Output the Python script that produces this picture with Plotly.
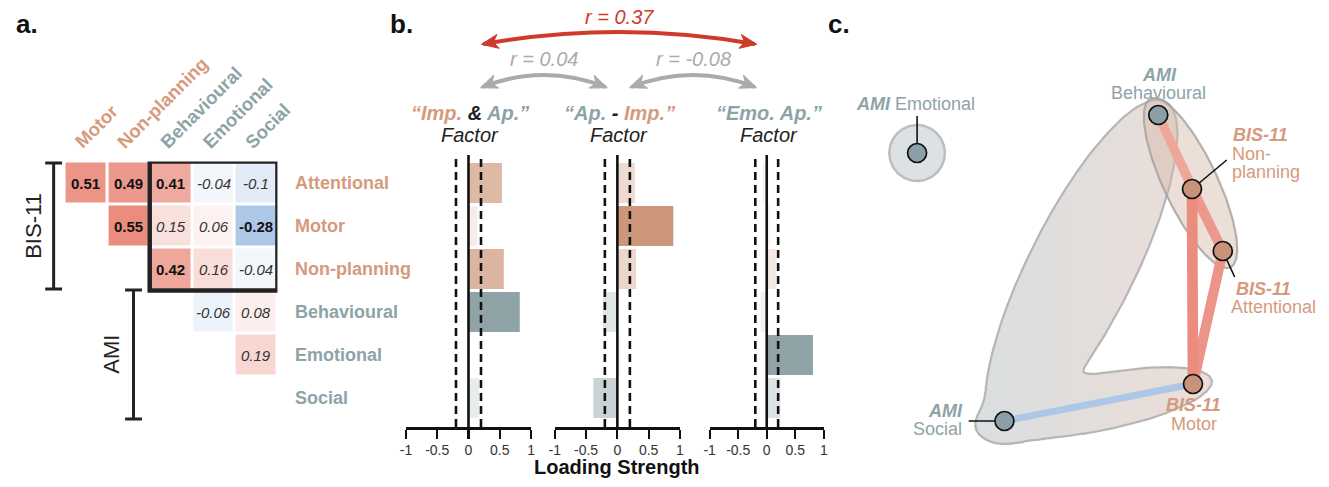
import numpy as np
import plotly.graph_objects as go

W, H = 1329, 487
FONT = "Liberation Sans, Arial, sans-serif"

# ---------------- data: panel a (correlation matrix) ----------------
col_labels = ["Motor", "Non-planning", "Behavioural", "Emotional", "Social"]
col_scale = ["BIS-11", "BIS-11", "AMI", "AMI", "AMI"]
row_labels = ["Attentional", "Motor", "Non-planning", "Behavioural", "Emotional", "Social"]
row_scale = ["BIS-11", "BIS-11", "BIS-11", "AMI", "AMI", "AMI"]
r_attentional = [0.51, 0.49, 0.41, -0.04, -0.10]
r_motor = [None, 0.55, 0.15, 0.06, -0.28]
r_nonplanning = [None, None, 0.42, 0.16, -0.04]
r_behavioural = [None, None, None, -0.06, 0.08]
r_emotional = [None, None, None, None, 0.19]
r_social = [None, None, None, None, None]
sig_threshold = 0.2

# ---------------- data: panel b (factor loadings) ----------------
load_imp_ap = [0.535, 0.14, 0.565, 0.82, 0.01, 0.17]
load_ap_minus_imp = [0.28, 0.895, 0.30, -0.23, 0.05, -0.385]
load_emo_ap = [-0.08, 0.065, 0.17, -0.11, 0.81, 0.24]
loading_cutoff = 0.2
factor_corr_pairs = [(0, 2), (0, 1), (1, 2)]
factor_corr_values = [0.37, 0.04, -0.08]
tick_vals = [-1, -0.5, 0, 0.5, 1]
tick_text = ["-1", "-0.5", "0", "0.5", "1"]

# ---------------- data: panel c (network layout) ----------------
node_names = ["Emotional", "Behavioural", "Non-planning", "Attentional", "Motor", "Social"]
node_scale = ["AMI", "AMI", "BIS-11", "BIS-11", "BIS-11", "AMI"]
node_x = [918, 1161, 1195, 1226, 1196, 1006]
node_y = [153, 115, 189, 251, 384, 421]
cluster_a = ["Behavioural", "Social", "Motor"]
cluster_b = ["Behavioural", "Non-planning", "Attentional"]
cluster_c = ["Emotional"]

# ---------------- styles ----------------
BIS_TXT, AMI_TXT = "#D69A7E", "#8EA3A8"
BIS_BAR, AMI_BAR = "#CC967B", "#90A4A8"
BIS_NODE, AMI_NODE = "#C8937A", "#8AA0A6"
RED_END, BLUE_END = (232, 129, 114), (79, 137, 202)
ZLIM = 0.6


def corr_color(v):
    t = max(-1.0, min(1.0, v / ZLIM))
    end = RED_END if t >= 0 else BLUE_END
    a = abs(t)
    c = [round(255 - (255 - e) * a) for e in end]
    return f"rgb({c[0]},{c[1]},{c[2]})"


def px_x(p):
    return p / W


def px_y(p):
    return 1 - p / H


fig = go.Figure()
annotations = []
shapes = []

# ================= panel a =================
z = [r_attentional, r_motor, r_nonplanning, r_behavioural, r_emotional, r_social]
hm_x0, hm_x1 = 59, 273.5
hm_y0, hm_y1 = 161.5, 419.5
fig.add_trace(go.Heatmap(
    z=z, x=list(range(len(col_labels))), y=list(range(len(row_labels))),
    zmin=-ZLIM, zmax=ZLIM, xgap=3, ygap=3, showscale=False, hoverinfo="skip",
    colorscale=[[0, "rgb(%d,%d,%d)" % BLUE_END], [0.5, "rgb(255,255,255)"],
                [1, "rgb(%d,%d,%d)" % RED_END]],
    xaxis="x", yaxis="y"))
for i, row in enumerate(z):
    for j, v in enumerate(row):
        if v is None:
            continue
        s = f"{v:g}"
        if abs(v) >= sig_threshold:
            txt, col = f"<b>{s}</b>", "#111111"
        else:
            txt, col = f"<i>{s}</i>", "#333333"
        annotations.append(dict(x=j, y=i, xref="x", yref="y", text=txt, showarrow=False,
                                font=dict(size=15, color=col, family=FONT)))
# row labels
for i, (lab, sc) in enumerate(zip(row_labels, row_scale)):
    annotations.append(dict(x=289, y=i, xref="x5", yref="y", text=f"<b>{lab}</b>",
                            showarrow=False, xanchor="left",
                            font=dict(size=18, color=BIS_TXT if sc == "BIS-11" else AMI_TXT,
                                      family=FONT)))
# column labels (rotated)
pitch = (hm_x1 - hm_x0) / len(col_labels)
for j, (lab, sc) in enumerate(zip(col_labels, col_scale)):
    cx = hm_x0 + pitch * (j + 0.5)
    annotations.append(dict(x=cx - 18, y=155, xref="x5", yref="y5", text=f"<b>{lab}</b>",
                            showarrow=False, xanchor="left", yanchor="bottom", textangle=-45,
                            font=dict(size=18.5, color=BIS_TXT if sc == "BIS-11" else AMI_TXT,
                                      family=FONT)))
# highlight box
shapes.append(dict(type="rect", xref="x", yref="y", x0=1.5, x1=4.5, y0=-0.5, y1=2.5,
                   line=dict(color="#222222", width=4.5), layer="above"))
# brackets
for (bx, y0, y1, lab, lx) in [(48, 163, 289, "BIS-11", 27), (128.5, 290, 419, "AMI", 106)]:
    shapes.append(dict(type="line", xref="x5", yref="y5", x0=bx, x1=bx, y0=y0, y1=y1,
                       line=dict(color="#222222", width=3)))
    for yy in (y0, y1):
        shapes.append(dict(type="line", xref="x5", yref="y5", x0=bx - 8.5, x1=bx + 8.5,
                           y0=yy, y1=yy, line=dict(color="#222222", width=3)))
    annotations.append(dict(x=lx, y=(y0 + y1) / 2, xref="x5", yref="y5", text=lab,
                            showarrow=False, textangle=-90,
                            font=dict(size=22, color="#222222", family=FONT)))

# ================= panel b =================
loadings = [load_imp_ap, load_ap_minus_imp, load_emo_ap]
bar_px = [(403, 529), (553, 679), (709, 824)]
bar_top, bar_bot = 155, 427
y_lo, y_hi = -0.651, 5.674
bar_cols = [BIS_BAR if s == "BIS-11" else AMI_BAR for s in row_scale]
for k, vals in enumerate(loadings):
    xa, ya = f"x{k + 2}", f"y{k + 2}"
    fig.add_trace(go.Bar(
        x=vals, y=list(range(len(row_labels))), orientation="h", width=0.93,
        marker=dict(color=bar_cols, opacity=[min(1.0, abs(v) / 0.8) for v in vals],
                    line=dict(width=0)),
        hoverinfo="skip", xaxis=xa, yaxis=ya))
    for xv, dash in [(0, "solid"), (-loading_cutoff, "8px,5px"), (loading_cutoff, "8px,5px")]:
        shapes.append(dict(type="line", xref=xa, yref=f"{ya} domain", x0=xv, x1=xv, y0=0, y1=1,
                           line=dict(color="#111111", width=2.6, dash=dash), layer="above"))

centers = [(a + b) / 2 for a, b in bar_px]
title_html = [
    f"<b><i><span style='color:{BIS_TXT}'>\u201cImp.</span> <span style='color:#222'>&amp;</span> "
    f"<span style='color:{AMI_TXT}'>Ap.\u201d</span></i></b>",
    f"<b><i><span style='color:{AMI_TXT}'>\u201cAp.</span> <span style='color:#222'>-</span> "
    f"<span style='color:{BIS_TXT}'>Imp.\u201d</span></i></b>",
    f"<b><i><span style='color:{AMI_TXT}'>\u201cEmo. Ap.\u201d</span></i></b>",
]
for c, t in zip(centers, title_html):
    annotations.append(dict(x=c + 2, y=113, xref="x5", yref="y5", text=t, showarrow=False,
                            font=dict(size=20, family=FONT)))
    annotations.append(dict(x=c + 2, y=135, xref="x5", yref="y5", text="<i>Factor</i>",
                            showarrow=False, font=dict(size=20, color="#222222", family=FONT)))
annotations.append(dict(x=616, y=467, xref="x5", yref="y5", text="<b>Loading Strength</b>",
                        showarrow=False, font=dict(size=20, color="#111111", family=FONT)))


def arc_with_heads(x0, x1, y, h, color, width, head_len, head_w):
    cxm = (x0 + x1) / 2
    cy = y - 2 * h
    shapes.append(dict(type="path", xref="x5", yref="y5",
                       path=f"M {x0},{y} Q {cxm},{cy} {x1},{y}",
                       line=dict(color=color, width=width)))
    for (px, py) in [(x0, y), (x1, y)]:
        d = np.array([px - cxm, py - cy], float)
        d /= np.hypot(*d)
        n = np.array([-d[1], d[0]])
        tip = np.array([px, py], float) + d * 2
        base = tip - d * head_len
        inner = tip - d * head_len * 0.72
        p1, p2 = base + n * head_w, base - n * head_w
        shapes.append(dict(type="path", xref="x5", yref="y5",
                           path=f"M {tip[0]},{tip[1]} L {p1[0]},{p1[1]} L {inner[0]},{inner[1]} "
                                f"L {p2[0]},{p2[1]} Z",
                           fillcolor=color, line=dict(color=color, width=1)))


for (a, b), r in zip(factor_corr_pairs, factor_corr_values):
    if (a, b) == (0, 2):
        x0, x1, y, col, ty = centers[a] + 15, centers[b] - 12, 44, "#CF3A2A", 17
    else:
        x0, x1, y, col, ty = centers[a] + 14, centers[b] - 12, 87, "#ABABAB", 59
    arc_with_heads(x0, x1, y, 12, col, 4, 17, 7)
    annotations.append(dict(x=(x0 + x1) / 2, y=ty, xref="x5", yref="y5",
                            text=f"<i>r = {r:g}</i>", showarrow=False,
                            font=dict(size=20, color=col, family=FONT)))

# ================= panel c =================
pos = {n: (x, y) for n, x, y in zip(node_names, node_x, node_y)}


def ell_field(X, Y, p, q, pad, b):
    p = np.asarray(p, float)
    q = np.asarray(q, float)
    c = (p + q) / 2
    d = q - p
    L = np.hypot(*d)
    u = d / L
    nv = np.array([-u[1], u[0]])
    a = L / 2 + pad
    dx, dy = X - c[0], Y - c[1]
    return ((dx * u[0] + dy * u[1]) / a) ** 2 + ((dx * nv[0] + dy * nv[1]) / b) ** 2


def smooth_min(a, b, k):
    m = np.minimum(a, b)
    return m - k * np.log(np.exp(-(a - m) / k) + np.exp(-(b - m) / k))


# cluster A: bent hull along the chain of its members
pA, pB, pC = (np.array(pos[n], float) for n in cluster_a)
u1 = (pA - pB) / np.hypot(*(pA - pB))
u2 = (pC - pB) / np.hypot(*(pC - pB))
bis = (u1 + u2) / np.hypot(*(u1 + u2))
ctr = pB + bis * 30
th = np.linspace(0, 2 * np.pi, 900)
rr = np.arange(0, 460, 0.5)
X = ctr[0] + np.outer(np.cos(th), rr)
Y = ctr[1] + np.outer(np.sin(th), rr)
G = smooth_min(ell_field(X, Y, pA, pB, 15, 53), ell_field(X, Y, pB, pC, 19, 28), 0.3)
idx = np.argmax(G >= 1, axis=1)
hx = X[np.arange(len(th)), idx]
hy = Y[np.arange(len(th)), idx]
fig.add_trace(go.Scatter(x=hx, y=hy, mode="lines", fill="toself",
                         fillgradient=dict(type="horizontal",
                                           colorscale=[[0, "#DADEE0"], [1, "#ECDED7"]]),
                         line=dict(color="#B6B6B6", width=2.2), hoverinfo="skip",
                         xaxis="x5", yaxis="y5"))

# cluster B: ellipse along its farthest pair
ptsB = [np.array(pos[n], float) for n in cluster_b]
best = max(((i, j) for i in range(len(ptsB)) for j in range(i + 1, len(ptsB))),
           key=lambda ij: np.hypot(*(ptsB[ij[0]] - ptsB[ij[1]])))
p, q = ptsB[best[0]], ptsB[best[1]]
c = (p + q) / 2
d = q - p
L = np.hypot(*d)
u = d / L
nv = np.array([-u[1], u[0]])
a_ax, b_ax = L / 2 + 18, 27
t = np.linspace(0, 2 * np.pi, 200)
ex = c[0] + a_ax * np.cos(t) * u[0] + b_ax * np.sin(t) * nv[0]
ey = c[1] + a_ax * np.cos(t) * u[1] + b_ax * np.sin(t) * nv[1]
fig.add_trace(go.Scatter(x=ex, y=ey, mode="lines", fill="toself",
                         fillcolor="rgba(213,184,168,0.45)",
                         line=dict(color="rgba(160,160,160,0.8)", width=2.2), hoverinfo="skip",
                         xaxis="x5", yaxis="y5"))

# cluster C: circle around single node
cc = pos[cluster_c[0]]
fig.add_trace(go.Scatter(x=cc[0] + 28 * np.cos(t), y=cc[1] + 28 * np.sin(t), mode="lines",
                         fill="toself", fillcolor="#DCE1E3",
                         line=dict(color="#BDBDBD", width=2.5), hoverinfo="skip",
                         xaxis="x5", yaxis="y5"))

# edges from correlation matrix
edges = []
for i, row in enumerate(z):
    for j, v in enumerate(row):
        if v is not None and abs(v) >= sig_threshold and row_labels[i] != col_labels[j]:
            edges.append((row_labels[i], col_labels[j], v))
edges.sort(key=lambda e: abs(e[2]))
for a_n, b_n, v in edges:
    fig.add_trace(go.Scatter(x=[pos[a_n][0], pos[b_n][0]], y=[pos[a_n][1], pos[b_n][1]],
                             mode="lines", line=dict(color=corr_color(v), width=3 + abs(v) * 14),
                             hoverinfo="skip", xaxis="x5", yaxis="y5"))

# leader lines
leaders = {"Emotional": (918, 116), "Non-planning": (1230, 160),
           "Attentional": (1238, 277), "Social": (970, 421)}
for n, (lx, ly) in leaders.items():
    fig.add_trace(go.Scatter(x=[lx, pos[n][0]], y=[ly, pos[n][1]], mode="lines",
                             line=dict(color="#111111", width=1.6), hoverinfo="skip",
                             xaxis="x5", yaxis="y5"))

# nodes
fig.add_trace(go.Scatter(
    x=node_x, y=node_y, mode="markers",
    marker=dict(size=19, color=[BIS_NODE if s == "BIS-11" else AMI_NODE for s in node_scale],
                line=dict(color="#111111", width=1.7)),
    hoverinfo="skip", xaxis="x5", yaxis="y5"))


def lab(x, y, text, color, anchor="center", bold=False):
    t = f"<b><i>{text}</i></b>" if bold else text
    annotations.append(dict(x=x, y=y, xref="x5", yref="y5", text=t, showarrow=False,
                            xanchor=anchor, font=dict(size=18, color=color, family=FONT)))


annotations.append(dict(x=916, y=104, xref="x5", yref="y5",
                        text=f"<b><i>AMI</i></b> Emotional", showarrow=False,
                        font=dict(size=18, color=AMI_TXT, family=FONT)))
lab(1162, 75, "AMI", AMI_TXT, bold=True)
lab(1161, 93, "Behavioural", AMI_TXT)
lab(1234, 135, "BIS-11", BIS_TXT, "left", True)
lab(1233, 154, "Non-", BIS_TXT, "left")
lab(1233, 172, "planning", BIS_TXT, "left")
lab(1237, 289, "BIS-11", BIS_TXT, "left", True)
lab(1232, 307, "Attentional", BIS_TXT, "left")
lab(1197, 405, "BIS-11", BIS_TXT, bold=True)
lab(1197, 424, "Motor", BIS_TXT)
lab(966, 411, "AMI", AMI_TXT, "right", True)
lab(965, 429, "Social", AMI_TXT, "right")

# panel letters
for x, ltr in [(8, "a."), (385, "b."), (826, "c.")]:
    annotations.append(dict(x=x, y=24, xref="x5", yref="y5", text=f"<b>{ltr}</b>",
                            showarrow=False, xanchor="left",
                            font=dict(size=26, color="#111111", family=FONT)))

# ================= layout =================
layout = dict(
    width=W, height=H, margin=dict(l=0, r=0, t=0, b=0),
    paper_bgcolor="white", plot_bgcolor="rgba(0,0,0,0)", showlegend=False,
    font=dict(family=FONT),
    xaxis=dict(domain=[px_x(hm_x0), px_x(hm_x1)], range=[-0.5, 4.5], visible=False,
               anchor="y"),
    yaxis=dict(domain=[px_y(hm_y1), px_y(hm_y0)], range=[5.5, -0.5], visible=False,
               anchor="x"),
    xaxis5=dict(domain=[0, 1], range=[0, W], visible=False, anchor="y5"),
    yaxis5=dict(domain=[0, 1], range=[H, 0], visible=False, anchor="x5"),
    annotations=annotations, shapes=shapes,
)
for k, (a, b) in enumerate(bar_px):
    layout[f"xaxis{k + 2}"] = dict(
        domain=[px_x(a), px_x(b)], range=[-1, 1], anchor=f"y{k + 2}",
        tickvals=tick_vals, ticktext=tick_text, ticks="outside", ticklen=9, tickwidth=2.2,
        tickcolor="#111111", showline=True, linewidth=2.6, linecolor="#111111",
        showgrid=False, zeroline=False, tickfont=dict(size=14, color="#333333", family=FONT))
    layout[f"yaxis{k + 2}"] = dict(domain=[px_y(bar_bot), px_y(bar_top)], range=[y_hi, y_lo],
                                   visible=False, anchor=f"x{k + 2}")
fig.update_layout(**layout)
fig.write_html("out.html", config={"displayModeBar": False, "staticPlot": True},
               post_script="document.body.style.margin='0';"
                           "document.body.style.overflow='hidden';")
